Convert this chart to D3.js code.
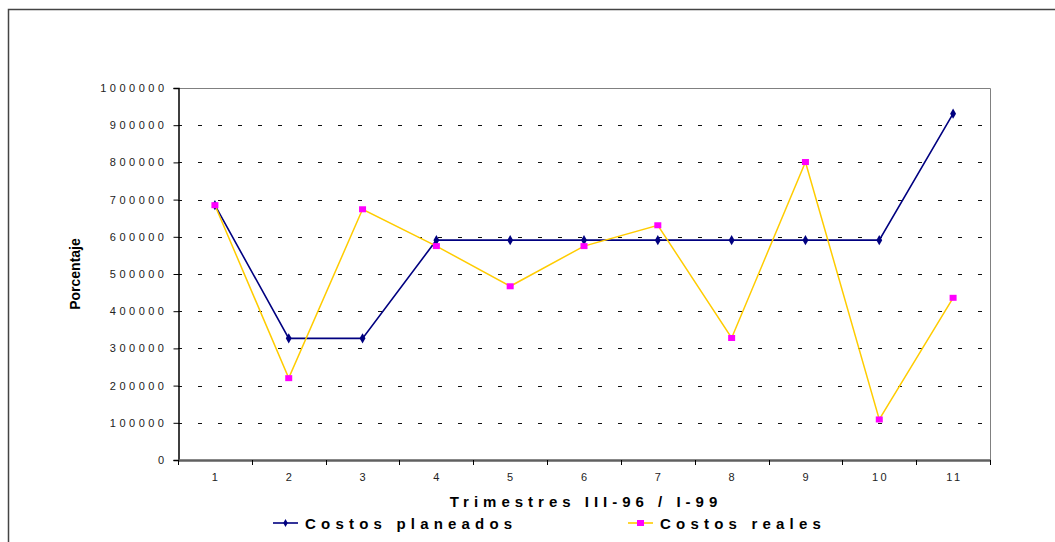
<!DOCTYPE html>
<html>
<head>
<meta charset="utf-8">
<script src="https://cdn.jsdelivr.net/npm/d3@7"></script>
<style>
body { margin: 0; background: #fff; }
text { font-family: Arial, "Liberation Sans", sans-serif; }
</style>
</head>
<body>
<div id="chart"></div>
<script>
var width = 1055,
    height = 542

// Data
var trimestres = [1, 2, 3, 4, 5, 6, 7, 8, 9, 10, 11]
var costosPlaneados = [685000, 327000, 327000, 591000, 591000, 591000, 591000, 591000, 591000, 591000, 931000]
var costosReales = [685000, 220000, 674000, 575000, 467000, 575000, 631000, 328000, 801000, 109000, 436000]
var yTicks = [0, 100000, 200000, 300000, 400000, 500000, 600000, 700000, 800000, 900000, 1000000]

var svg = d3.select("#chart").append("svg")
    .attr("width", width)
    .attr("height", height)

// outer chart border (runs off the page right and bottom)
svg.append("rect")
    .attr("x", 8.5).attr("y", 9.5)
    .attr("width", 1100).attr("height", 600)
    .attr("fill", "none")
    .attr("stroke", "#444")
    .attr("stroke-width", 1.5)

var x = d3.scaleBand()
    .domain(trimestres)
    .range([178, 990])

var y = d3.scaleLinear()
    .domain([0, 1000000])
    .range([460, 88])

function cx(d) { return x(d) + x.bandwidth() / 2 }

// grid
svg.selectAll(".grid")
    .data(yTicks.filter(function (d) { return d > 0 && d < 1000000 }))
    .join("line")
    .attr("class", "grid")
    .attr("x1", 178).attr("x2", 990)
    .attr("y1", function (d) { return Math.round(y(d)) + 0.5 })
    .attr("y2", function (d) { return Math.round(y(d)) + 0.5 })
    .attr("stroke", "#111")
    .attr("stroke-width", 1.2)
    .attr("stroke-dasharray", "4,16")

// plot area border top/right
svg.append("path")
    .attr("d", "M178," + (Math.round(y(1000000)) + 0.5) + "H990.5V460")
    .attr("fill", "none")
    .attr("stroke", "#808080")
    .attr("stroke-width", 1)

// y axis
var yAxis = svg.append("g")
    .attr("transform", "translate(178.5,0)")
    .call(d3.axisLeft(y).tickValues(yTicks).tickSize(5).tickFormat(function (d) { return d }))
yAxis.select(".domain").attr("stroke", "#000").attr("stroke-width", 1.5)
yAxis.selectAll(".tick line").attr("stroke", "#000")
yAxis.selectAll(".tick text")
    .attr("x", -11)
    .attr("font-size", 11)
    .attr("letter-spacing", 3.5)
    .attr("fill", "#222")
    .style("font-family", "Arial, 'Liberation Sans', sans-serif")

// x axis
var xAxis = svg.append("g")
    .attr("transform", "translate(0,460)")
    .call(d3.axisBottom(x).tickSize(0).tickPadding(0))
xAxis.select(".domain").attr("stroke", "#606060").attr("stroke-width", 2.5)
xAxis.selectAll(".tick text")
    .attr("y", 13)
    .attr("dx", 1.2)
    .attr("font-size", 11)
    .attr("letter-spacing", 2.4)
    .attr("fill", "#222")
    .style("font-family", "Arial, 'Liberation Sans', sans-serif")

// ticks between categories
xAxis.selectAll(".sep")
    .data(trimestres.concat([12]))
    .join("line")
    .attr("class", "sep")
    .attr("x1", function (d, i) { return Math.round(178 + i * x.bandwidth()) + 0.5 })
    .attr("x2", function (d, i) { return Math.round(178 + i * x.bandwidth()) + 0.5 })
    .attr("y1", 0).attr("y2", 5)
    .attr("stroke", "#000")

// lines
var line = d3.line()
    .x(function (d, i) { return cx(trimestres[i]) })
    .y(function (d) { return y(d) })

svg.append("path")
    .attr("d", line(costosPlaneados))
    .attr("fill", "none")
    .attr("stroke", "#000080")
    .attr("stroke-width", 1.6)

svg.append("path")
    .attr("d", line(costosReales))
    .attr("fill", "none")
    .attr("stroke", "#FFCC00")
    .attr("stroke-width", 1.5)

var diamond = d3.symbol().type(d3.symbolDiamond).size(30)

svg.selectAll(".mp")
    .data(costosPlaneados)
    .join("path")
    .attr("class", "mp")
    .attr("d", diamond)
    .attr("transform", function (d, i) { return "translate(" + cx(trimestres[i]) + "," + y(d) + ")" })
    .attr("fill", "#000080")

svg.selectAll(".mr")
    .data(costosReales)
    .join("rect")
    .attr("class", "mr")
    .attr("x", function (d, i) { return cx(trimestres[i]) - 3.5 })
    .attr("y", function (d) { return y(d) - 3 })
    .attr("width", 7).attr("height", 6)
    .attr("fill", "#FF00FF")

// axis titles
svg.append("text")
    .attr("transform", "translate(80,274) rotate(-90)")
    .attr("text-anchor", "middle")
    .attr("font-size", 14)
    .attr("font-weight", "bold")
    .text("Porcentaje")

svg.append("text")
    .attr("x", 586)
    .attr("y", 507)
    .attr("text-anchor", "middle")
    .attr("font-size", 15)
    .attr("font-weight", "bold")
    .attr("letter-spacing", 5)
    .text("Trimestres III-96 / I-99")

// legend
var legend = [
    { name: "Costos planeados", color: "#000080", x: 273 },
    { name: "Costos reales", color: "#FFCC00", x: 628 }
]
var lg = svg.selectAll(".lg")
    .data(legend)
    .join("g")
    .attr("class", "lg")
    .attr("transform", function (d) { return "translate(" + d.x + ",523)" })
lg.append("line")
    .attr("x1", 0).attr("x2", 25)
    .attr("stroke", function (d) { return d.color })
    .attr("stroke-width", 1.6)
lg.filter(function (d, i) { return i === 0 }).append("path")
    .attr("d", d3.symbol().type(d3.symbolDiamond).size(18))
    .attr("transform", "translate(12.5,0)")
    .attr("fill", "#000080")
lg.filter(function (d, i) { return i === 1 }).append("rect")
    .attr("x", 9).attr("y", -3)
    .attr("width", 7).attr("height", 6)
    .attr("fill", "#FF00FF")
lg.append("text")
    .attr("x", 32)
    .attr("y", 6)
    .attr("font-size", 15)
    .attr("font-weight", "bold")
    .attr("letter-spacing", 5.2)
    .text(function (d) { return d.name })
</script>
</body>
</html>
